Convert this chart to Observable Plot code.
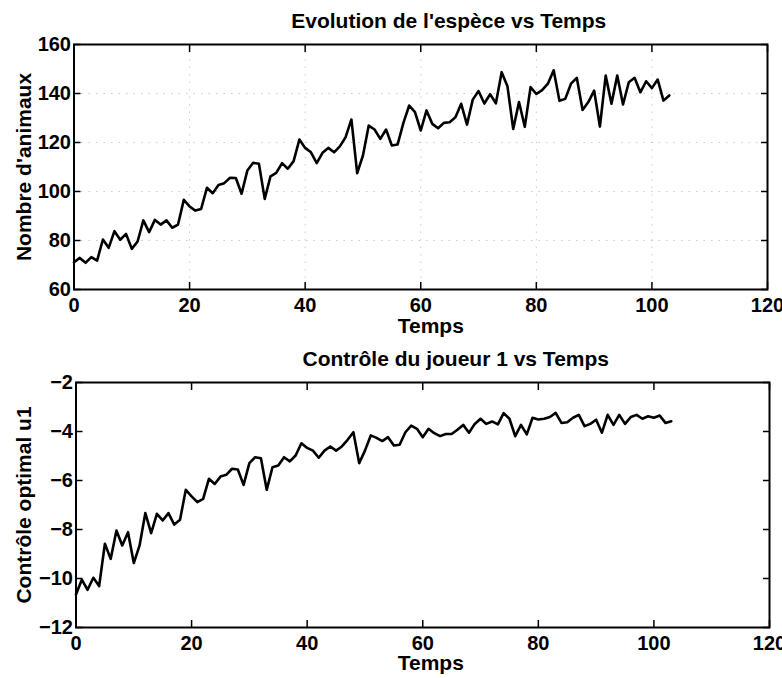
<!DOCTYPE html>
<html>
<head>
<meta charset="utf-8">
<script src="https://cdn.jsdelivr.net/npm/d3@7"></script>
<script src="https://cdn.jsdelivr.net/npm/@observablehq/plot@0.6"></script>
<style>
  body { margin: 0; background: #fff; }
  #chart svg { display: block; }
</style>
</head>
<body>
<div id="chart"></div>
<script>
const temps = [0,1,2,3,4,5,6,7,8,9,10,11,12,13,14,15,16,17,18,19,20,21,22,23,24,25,26,27,28,29,30,31,32,33,34,35,36,37,38,39,40,41,42,43,44,45,46,47,48,49,50,51,52,53,54,55,56,57,58,59,60,61,62,63,64,65,66,67,68,69,70,71,72,73,74,75,76,77,78,79,80,81,82,83,84,85,86,87,88,89,90,91,92,93,94,95,96,97,98,99,100,101,102,103];

const animaux = [71.1,72.9,70.9,73.2,71.8,80.4,77,83.8,80.3,82.7,76.6,79.6,88.2,83.4,88.4,86.5,88.2,85.2,86.5,96.6,
  93.9,92.2,92.9,101.5,99.3,102.7,103.4,105.6,105.5,99.1,108.6,111.7,111.3,97,106.2,107.6,111.6,109.3,112.4,121.2,
  117.8,116,111.6,115.8,117.8,116,118.4,122.2,129.4,107.5,114.7,126.9,125.3,121.5,125.3,118.8,119.2,128,135.1,132.4,
  124.9,133.1,127.6,125.8,128,128.3,130.3,135.8,127.3,137.5,141,135.9,139.7,136,148.7,143,125.5,136.5,126.4,142.6,
  139.8,141.4,144,149.5,137,137.8,144,146.4,133.3,136.5,141.2,126.5,147.3,135.8,147.3,135.5,144.6,146.4,140.5,145,
  142.2,145.7,137.1,139.2];

const controle = [-10.65,-10.05,-10.46,-9.97,-10.31,-8.58,-9.2,-8.04,-8.65,-8.11,-9.37,-8.65,-7.33,-8.15,-7.36,-7.63,-7.33,-7.8,-7.6,-6.38,
  -6.65,-6.88,-6.75,-5.93,-6.14,-5.84,-5.77,-5.52,-5.55,-6.18,-5.29,-5.05,-5.09,-6.38,-5.46,-5.39,-5.05,-5.22,-4.98,-4.48,
  -4.67,-4.78,-5.07,-4.78,-4.61,-4.78,-4.61,-4.34,-4.03,-5.29,-4.78,-4.16,-4.26,-4.39,-4.23,-4.57,-4.54,-4.03,-3.76,-3.89,
  -4.23,-3.89,-4.07,-4.19,-4.1,-4.1,-3.93,-3.73,-4.05,-3.69,-3.48,-3.69,-3.59,-3.71,-3.25,-3.48,-4.19,-3.73,-4.12,-3.44,
  -3.51,-3.48,-3.41,-3.24,-3.65,-3.62,-3.44,-3.32,-3.78,-3.69,-3.52,-4.05,-3.32,-3.73,-3.32,-3.69,-3.41,-3.32,-3.48,-3.38,
  -3.44,-3.35,-3.65,-3.58];

const xTicks = [0,20,40,60,80,100,120];
const yTicksTop = [60,80,100,120,140,160];
const yTicksBottom = [-12,-10,-8,-6,-4,-2];
const titles = ["Evolution de l'espèce vs Temps", "Contrôle du joueur 1 vs Temps"];
const yLabels = ["Nombre d'animaux", "Contrôle optimal u1"];
const xLabel = "Temps";

function panel(o) {
  const data = temps.map((t, i) => ({t, v: o.values[i]}));
  return Plot.plot({
    width: 782,
    height: 339,
    marginTop: o.mt, marginBottom: o.mb, marginLeft: o.ml, marginRight: o.mr,
    style: {fontFamily: "'Liberation Sans', Arial, sans-serif", fontSize: "20px", fontWeight: "bold", background: "white", color: "black"},
    x: {domain: [0, 120]},
    y: {domain: o.yDomain},
    marks: [
      o.grid ? Plot.gridY(o.yTicks.slice(1, -1), {stroke: "#000", strokeOpacity: 0.2, strokeDasharray: "1.5,6"}) : null,
      o.grid ? Plot.gridX(xTicks.slice(1, -1), {stroke: "#000", strokeOpacity: 0.2, strokeDasharray: "1.5,6"}) : null,
      Plot.axisX(xTicks, {anchor: "bottom", tickSize: -7, tickPadding: 15, label: null, strokeWidth: 1.5}),
      Plot.axisX(xTicks, {anchor: "top", tickSize: -7, tickFormat: () => "", label: null, strokeWidth: 1.5}),
      Plot.axisY(o.yTicks, {anchor: "left", tickSize: -7, tickPadding: 10, label: null, strokeWidth: 1.5}),
      Plot.axisY(o.yTicks, {anchor: "right", tickSize: -7, tickFormat: () => "", label: null, strokeWidth: 1.5}),
      Plot.frame({stroke: "black", strokeWidth: 2}),
      Plot.line(data, {x: "t", y: "v", stroke: "black", strokeWidth: 2.6, strokeLinejoin: "round"}),
      Plot.text([o.title], {text: d => d, frameAnchor: "top", lineAnchor: "bottom", dy: -17, dx: o.titleDx, fontSize: 21}),
      Plot.text([xLabel], {text: d => d, frameAnchor: "bottom", lineAnchor: "bottom", dy: o.xlDy, dx: o.xlDx, fontSize: 21}),
      Plot.text([o.ylabel], {text: d => d, frameAnchor: "left", textAnchor: "middle", lineAnchor: "middle", rotate: -90, dx: o.ylDx, fontSize: 21})
    ]
  });
}

const chart = document.getElementById("chart");
chart.append(panel({
  values: animaux, yDomain: [60, 160], yTicks: yTicksTop, title: titles[0], ylabel: yLabels[0],
  mt: 44, mb: 50, ml: 73.5, mr: 15, grid: true, titleDx: 28, xlDx: 10, xlDy: 43, ylDx: -49.5
}));
chart.append(panel({
  values: controle, yDomain: [-12, -2], yTicks: yTicksBottom, title: titles[1], ylabel: yLabels[1],
  mt: 43, mb: 51, ml: 75.5, mr: 13, grid: false, titleDx: 33, xlDx: 8, xlDy: 42, ylDx: -51.5
}));
</script>
</body>
</html>
